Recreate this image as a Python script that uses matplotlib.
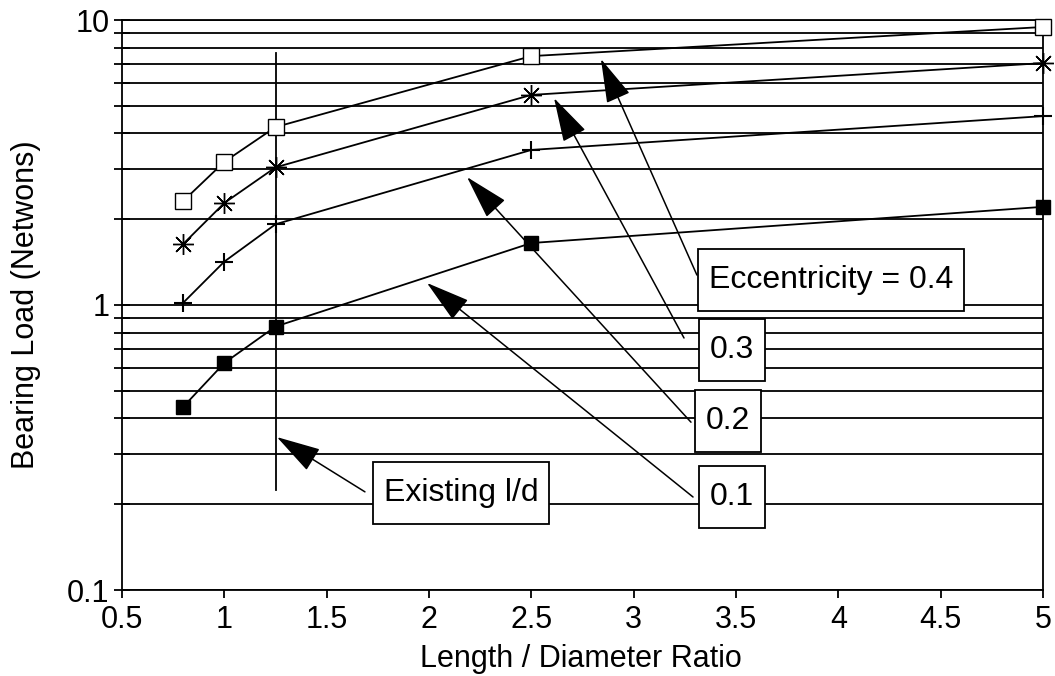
import matplotlib
matplotlib.use('Agg')
import matplotlib.pyplot as plt
from matplotlib.ticker import FixedLocator, NullFormatter

plt.rcParams['font.family'] = ['Liberation Sans', 'DejaVu Sans']

# length / diameter ratios and bearing loads for each eccentricity
ld_ratio = [0.8, 1.0, 1.25, 2.5, 5.0]
load_e01 = [0.44, 0.626, 0.84, 1.65, 2.21]
load_e02 = [1.02, 1.42, 1.92, 3.50, 4.60]
load_e03 = [1.64, 2.28, 3.04, 5.46, 7.06]
load_e04 = [2.32, 3.18, 4.21, 7.47, 9.45]

existing_ld = 1.25
existing_span = [0.224, 7.66]

x_ticks = [0.5, 1, 1.5, 2, 2.5, 3, 3.5, 4, 4.5, 5]
x_tick_labels = ['0.5', '1', '1.5', '2', '2.5', '3', '3.5', '4', '4.5', '5']
y_ticks = [0.1, 1, 10]
y_tick_labels = ['0.1', '1', '10']
y_minor = [m * d for d in (0.1, 1) for m in range(2, 10)]

fig = plt.figure(figsize=(10.55, 6.76), dpi=100)
ax = fig.add_axes([122 / 1055, 86 / 676, 921 / 1055, 570 / 676])

ax.set_yscale('log')
ax.set_xlim(0.5, 5)
ax.set_ylim(0.1, 10)

# horizontal grid at every decade step
for yv in y_minor + y_ticks:
    ax.axhline(yv, color='black', lw=1.3, zorder=1)

line_kw = dict(color='black', lw=1.3, zorder=3, clip_on=False)
ax.plot(ld_ratio, load_e01, marker='s', ms=10, mfc='black', mec='black', **line_kw)
ax.plot(ld_ratio, load_e02, marker='+', ms=13, mew=1.5, **line_kw)
ax.plot(ld_ratio, load_e03, marker=(8, 2, 0), ms=15, mew=1.0, **line_kw)
ax.plot(ld_ratio, load_e04, marker='s', ms=11, mfc='white', mec='black', mew=1.0, **line_kw)

# existing l/d marker line
ax.plot([existing_ld, existing_ld], existing_span, color='black', lw=1.3, zorder=2)

# ticks
ax.xaxis.set_major_locator(FixedLocator(x_ticks))
ax.set_xticklabels(x_tick_labels)
ax.yaxis.set_major_locator(FixedLocator(y_ticks))
ax.set_yticklabels(y_tick_labels)
ax.yaxis.set_minor_locator(FixedLocator(y_minor))
ax.yaxis.set_minor_formatter(NullFormatter())
ax.tick_params(axis='x', direction='out', length=6, width=1.3, pad=5, labelsize=22)
ax.tick_params(axis='y', which='both', direction='inout', length=12, width=1.3, pad=3, labelsize=22)

for s in ax.spines.values():
    s.set_linewidth(1.3)

ax.set_xlabel('Length / Diameter Ratio', fontsize=22)
ax.set_ylabel('Bearing Load (Netwons)', fontsize=22)
ax.xaxis.set_label_coords(0.498, -0.095)
ax.yaxis.set_label_coords(-0.088, 0.5)

# label boxes and arrows (text position, arrow tail, arrow tip)
notes = [
    ('Eccentricity = 0.4', (3.368, 1.224), (3.309, 1.274), (2.840, 7.30)),
    ('0.3', (3.373, 0.695), (3.246, 0.766), (2.611, 5.32)),
    ('0.2', (3.353, 0.392), (3.280, 0.388), (2.186, 2.81)),
    ('0.1', (3.373, 0.212), (3.290, 0.212), (1.990, 1.195)),
    ('Existing l/d', (1.780, 0.219), (1.687, 0.221), (1.257, 0.344)),
]
for label, txt_xy, tail, tip in notes:
    ax.text(txt_xy[0], txt_xy[1], label, ha='left', va='center', fontsize=23, zorder=5,
            bbox=dict(boxstyle='square,pad=0.33', mutation_aspect=1.5,
                      fc='white', ec='black', lw=1.3))
    ax.annotate('', xy=tip, xytext=tail, zorder=4,
                arrowprops=dict(arrowstyle='-|>,head_length=1.4,head_width=0.4',
                                mutation_scale=20, color='black', lw=1.1,
                                shrinkA=0, shrinkB=0))

plt.savefig('out.png', dpi=100)
